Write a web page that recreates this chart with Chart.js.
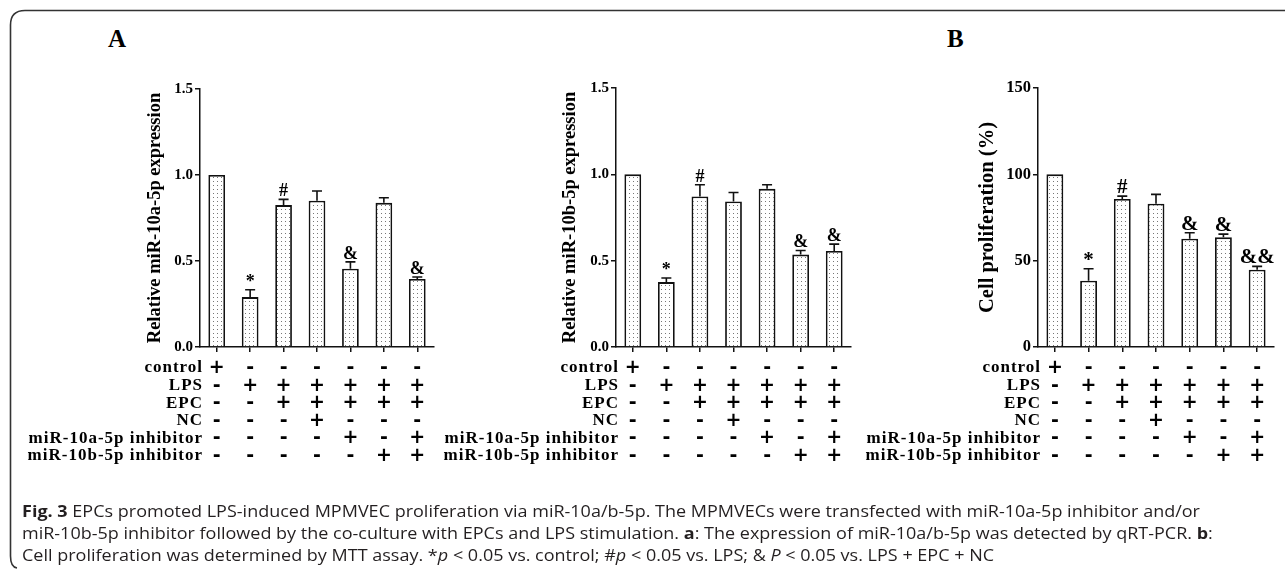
<!DOCTYPE html>
<html><head><meta charset="utf-8">
<script src="https://cdn.jsdelivr.net/npm/chart.js@4"></script>
<style>
html,body{margin:0;padding:0;background:#fff;}
body{width:1285px;height:571px;position:relative;overflow:hidden;}
canvas{position:absolute;top:0;}
.panel{position:absolute;font:bold 25px "Liberation Serif",serif;color:#000;}
.cap{position:absolute;left:22px;white-space:nowrap;font:15.5px "Open Sans",sans-serif;color:#231f20;transform-origin:0 50%;}
.cap b{font-weight:bold;}
svg{position:absolute;left:0;top:0;}
</style></head>
<body>
<svg width="1285" height="571"><path d="M1285 10.5 H25 Q10.5 10.5 10.5 25 V556 Q10.5 567 17 568" fill="none" stroke="#333" stroke-width="1.6"/></svg>
<div class="panel" style="left:108px;top:25px;">A</div>
<div class="panel" style="left:947px;top:25px;">B</div>
<canvas id="c1" width="436" height="571" style="left:0px"></canvas>
<canvas id="c2" width="416" height="571" style="left:436px"></canvas>
<canvas id="c3" width="433" height="571" style="left:852px"></canvas>
<div class="cap" id="l1" style="top:500px"><b>Fig. 3</b> EPCs promoted LPS-induced MPMVEC proliferation via miR-10a/b-5p. The MPMVECs were transfected with miR-10a-5p inhibitor and/or</div>
<div class="cap" id="l2" style="top:522px">miR-10b-5p inhibitor followed by the co-culture with EPCs and LPS stimulation. <b>a</b>: The expression of miR-10a/b-5p was detected by qRT-PCR. <b>b</b>:</div>
<div class="cap" id="l3" style="top:544px">Cell proliferation was determined by MTT assay. *<i>p</i> &lt; 0.05 vs. control; #<i>p</i> &lt; 0.05 vs. LPS; &amp; <i>P</i> &lt; 0.05 vs. LPS + EPC + NC</div>
<script>
// ---- data ----
const categories = ['control','LPS','LPS+EPC','LPS+EPC+NC','LPS+EPC+10a-inh','LPS+EPC+10b-inh','LPS+EPC+10a+10b-inh'];
const rowLabels = ['control','LPS','EPC','NC','miR-10a-5p inhibitor','miR-10b-5p inhibitor'];
const rowControl = ['+','-','-','-','-','-','-'];
const rowLPS     = ['-','+','+','+','+','+','+'];
const rowEPC     = ['-','-','+','+','+','+','+'];
const rowNC      = ['-','-','-','+','-','-','-'];
const row10a     = ['-','-','-','-','+','-','+'];
const row10b     = ['-','-','-','-','-','+','+'];

const mir10aValues = [1.00, 0.29, 0.825, 0.85, 0.455, 0.838, 0.395];
const mir10aErrors = [0, 0.043, 0.033, 0.057, 0.04, 0.03, 0.012];
const mir10aMarks  = ['', '*', '#', '', '&', '', '&'];

const mir10bValues = [1.00, 0.376, 0.872, 0.843, 0.916, 0.535, 0.556];
const mir10bErrors = [0, 0.024, 0.068, 0.052, 0.024, 0.024, 0.04];
const mir10bMarks  = ['', '*', '#', '', '', '&', '&'];

const prolifValues = [100, 38.4, 85.7, 83.0, 62.7, 63.5, 44.8];
const prolifErrors = [0, 6.9, 1.7, 5.4, 3.5, 1.9, 1.9];
const prolifMarks  = ['', '*', '#', '', '&', '&', '&&'];

const ticksA = [0, 0.5, 1.0, 1.5];
const ticksB = [0, 50, 100, 150];

const rowSigns = [rowControl, rowLPS, rowEPC, rowNC, row10a, row10b];

// ---- rendering ----
const SERIF = '"Liberation Serif","Times New Roman",serif';
const rowY = [368, 385.6, 403.2, 420.8, 438.4, 456];

function makePattern(ctx){
  const c = document.createElement('canvas'); c.width = 4; c.height = 4;
  const x = c.getContext('2d');
  x.fillStyle = '#fff'; x.fillRect(0,0,4,4);
  x.fillStyle = '#777'; x.fillRect(1,1,1,1);
  return ctx.createPattern(c,'repeat');
}

const overlay = {
  id: 'overlay',
  afterDatasetsDraw(chart){
    const o = chart.options.plugins.overlay;
    const {ctx} = chart; const xs = chart.scales.x, ys = chart.scales.y;
    ctx.save();
    ctx.strokeStyle = '#111'; ctx.lineWidth = 1.6; ctx.fillStyle = '#000';
    o.values.forEach((v,i)=>{
      const e = o.errors[i];
      const px = xs.getPixelForValue(i);
      const y0 = ys.getPixelForValue(v), y1 = ys.getPixelForValue(v+e);
      if (e > 0){
        ctx.beginPath(); ctx.moveTo(px,y0); ctx.lineTo(px,y1);
        ctx.moveTo(px-o.cap,y1); ctx.lineTo(px+o.cap,y1); ctx.stroke();
      }
      if (o.marks[i]){
        ctx.font = 'bold '+o.markSize+'px '+SERIF;
        ctx.textAlign = 'center'; ctx.textBaseline = 'alphabetic';
        ctx.fillText(o.marks[i], px, y1 - 3);
      }
    });
    rowLabels.forEach((lab,r)=>{
      const ry = rowY[r];
      ctx.font = 'bold 17px '+SERIF; ctx.letterSpacing = '1px';
      ctx.textAlign = 'right'; ctx.textBaseline = 'middle';
      ctx.fillText(lab, chart.chartArea.left + 3, ry);
      ctx.letterSpacing = '0px';
      ctx.font = 'bold 19px "DejaVu Sans",Arial,sans-serif';
      ctx.textAlign = 'center';
      rowSigns[r].forEach((s,i)=>{ ctx.fillText(s, xs.getPixelForValue(i), ry); });
    });
    ctx.restore();
  }
};

function build(id, values, errors, marks, tickVals, title, opt){
  const canvas = document.getElementById(id);
  const ctx = canvas.getContext('2d');
  const pat = makePattern(ctx);
  const ymax = tickVals[tickVals.length-1];
  return new Chart(ctx, {
    type: 'bar',
    data: { labels: categories, datasets: [{
      data: values, backgroundColor: pat, borderColor: '#111', borderWidth: 1.8,
      borderSkipped: 'bottom', barPercentage: 0.5, categoryPercentage: 1.0 }] },
    plugins: [overlay],
    options: {
      responsive: false, animation: false, devicePixelRatio: 1,
      layout: { padding: { left: 0, right: opt.padRight, top: opt.top, bottom: 0 } },
      plugins: { legend: {display:false}, tooltip: {enabled:false},
        overlay: { values, errors, marks, cap: opt.cap, markSize: opt.markSize } },
      scales: {
        x: {
          afterFit(s){ s.height = 571 - 347; },
          ticks: { display: false },
          grid: { drawOnChartArea: false, drawTicks: true, tickLength: 5, offset: false, color: '#111', lineWidth: 1.5 },
          border: { display: true, color: '#111', width: 1.5 }
        },
        y: {
          min: 0, max: ymax,
          afterFit(s){ s.width = opt.axisW; },
          afterBuildTicks(s){ s.ticks = tickVals.map(v=>({value:v})); },
          ticks: { color: '#000', padding: 2,
            font: { family: SERIF, weight: 'bold', size: opt.tickSize },
            callback: v => opt.decimals ? Number(v).toFixed(1) : String(v) },
          grid: { drawOnChartArea: false, drawTicks: true, tickLength: 5, color: '#111', lineWidth: 1.5 },
          border: { display: true, color: '#111', width: 1.5 },
          title: { display: true, text: title, color: '#000',
            font: { family: SERIF, weight: 'bold', size: opt.titleSize },
            padding: { top: opt.titleX - opt.titleSize*0.6, bottom: 0 } }
        }
      }
    }
  });
}

build('c1', mir10aValues, mir10aErrors, mir10aMarks, ticksA, 'Relative miR-10a-5p expression',
  { axisW: 200, padRight: 2, top: 89, tickSize: 15, titleSize: 18.5, titleX: 155, decimals: true, cap: 5, markSize: 18 });
build('c2', mir10bValues, mir10bErrors, mir10bMarks, ticksA, 'Relative miR-10b-5p expression',
  { axisW: 180, padRight: 1, top: 88, tickSize: 15, titleSize: 18.5, titleX: 134, decimals: true, cap: 5, markSize: 18 });
build('c3', prolifValues, prolifErrors, prolifMarks, ticksB, 'Cell proliferation (%)',
  { axisW: 186, padRight: 11, top: 88, tickSize: 16.5, titleSize: 20.5, titleX: 136, decimals: false, cap: 5, markSize: 21 });

// fit caption: scale from the first line, applied to all lines
const l1 = document.getElementById('l1');
const k = 1178 / l1.getBoundingClientRect().width;
['l1','l2','l3'].forEach(id=>{ document.getElementById(id).style.transform = 'scaleX(' + k + ')'; });
</script>
</body></html>
